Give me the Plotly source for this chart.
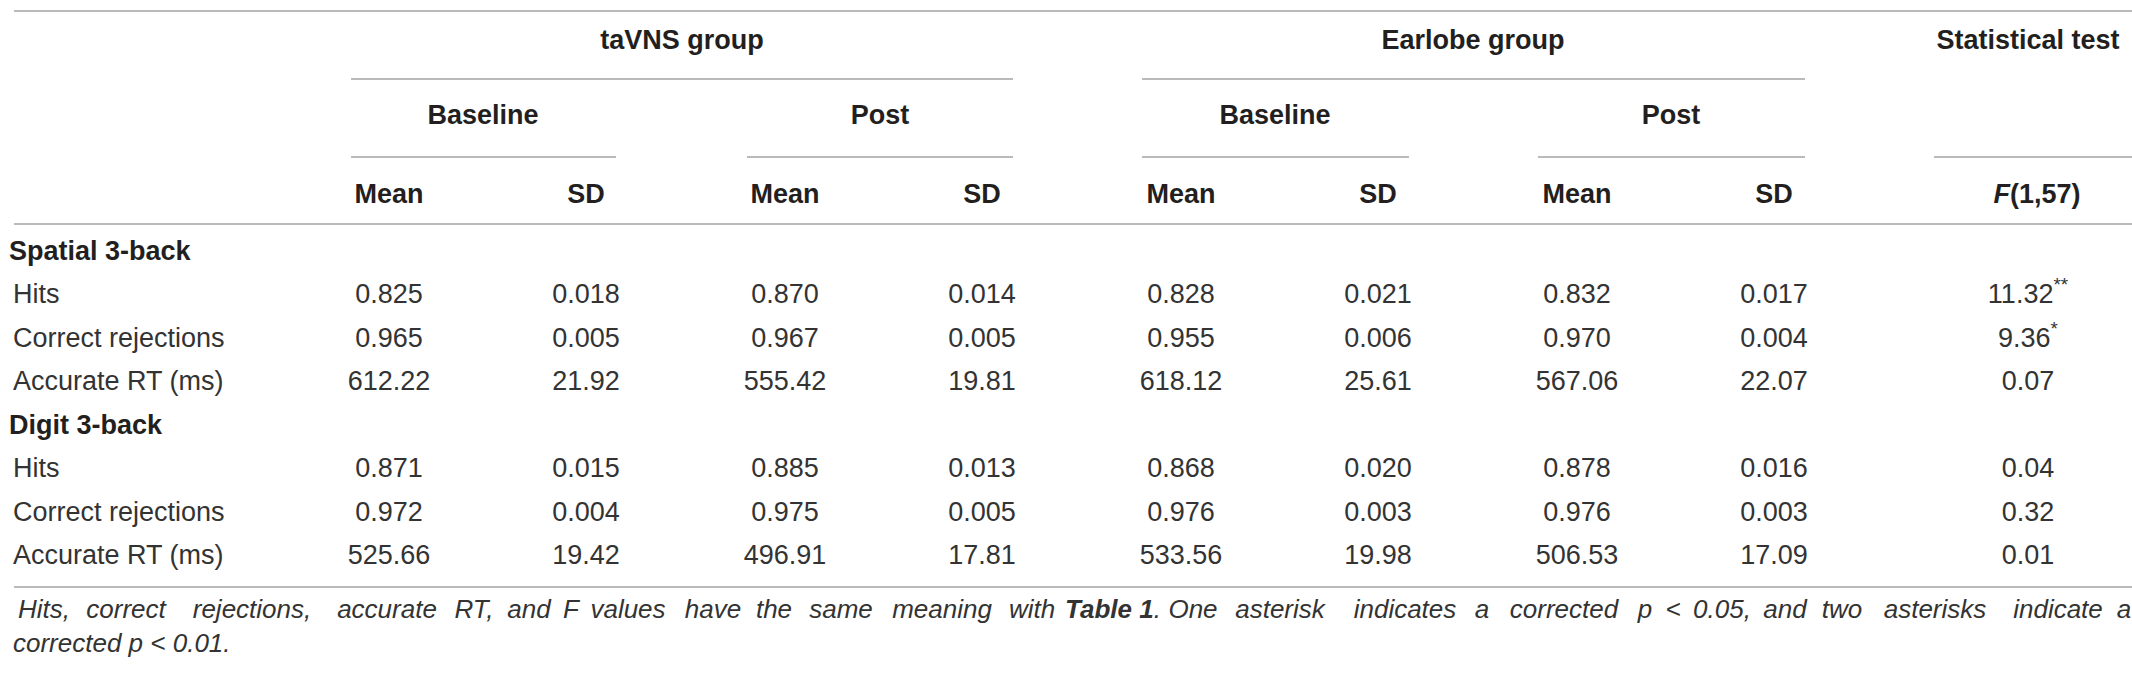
import plotly.graph_objects as go

# =========================
# Dados da tabela
# =========================
secoes = ["Spatial 3-back", "Digit 3-back"]
linhas = ["Hits", "Correct rejections", "Accurate RT (ms)"]
decimais = [3, 3, 2]

tavns_base_mean = [0.825, 0.965, 612.22, 0.871, 0.972, 525.66]
tavns_base_sd = [0.018, 0.005, 21.92, 0.015, 0.004, 19.42]
tavns_post_mean = [0.870, 0.967, 555.42, 0.885, 0.975, 496.91]
tavns_post_sd = [0.014, 0.005, 19.81, 0.013, 0.005, 17.81]
ear_base_mean = [0.828, 0.955, 618.12, 0.868, 0.976, 533.56]
ear_base_sd = [0.021, 0.006, 25.61, 0.020, 0.003, 19.98]
ear_post_mean = [0.832, 0.970, 567.06, 0.878, 0.976, 506.53]
ear_post_sd = [0.017, 0.004, 22.07, 0.016, 0.003, 17.09]
f_valores = [11.32, 9.36, 0.07, 0.04, 0.32, 0.01]
f_asteriscos = ["**", "*", "", "", "", ""]

grupos = ["taVNS group", "Earlobe group"]
subgrupos = ["Baseline", "Post", "Baseline", "Post"]
colunas = ["Mean", "SD"] * 4

nota_palavras = ["Hits,", "correct", "rejections,", "accurate", "RT,", "and", "F", "values",
                 "have", "the", "same", "meaning", "with", "<b>Table 1</b>.", "One", "asterisk",
                 "indicates", "a", "corrected", "p", "&lt;", "0.05,", "and", "two", "asterisks",
                 "indicate", "a"]
nota_linha2 = "corrected p &lt; 0.01."

# =========================
# Layout (pixels)
# =========================
W, H = 2132, 675
FONTE = "Liberation Sans"
COR_CAB = "#231f20"
COR_TXT = "#333333"
COR_LINHA = "#a3a3a3"
TAM = 27
TAM_NOTA = 26

x_mean = [389, 785, 1181, 1577]
x_sd = [586, 982, 1378, 1774]
x_f = 2028
x_cols = [x_mean[0], x_sd[0], x_mean[1], x_sd[1], x_mean[2], x_sd[2], x_mean[3], x_sd[3]]

y_secao = [253, 427]
y_linhas = [296, 340, 383, 470, 514, 557]

fig = go.Figure()

colunas_valores = [tavns_base_mean, tavns_base_sd, tavns_post_mean, tavns_post_sd,
                   ear_base_mean, ear_base_sd, ear_post_mean, ear_post_sd]


def fmt(v, i):
    return f"{v:.{decimais[i % 3]}f}"


def texto(x, y, txt, pos="middle center", cor=COR_TXT, tam=TAM):
    fig.add_trace(go.Scatter(
        x=x, y=y, mode="text", text=txt, textposition=pos,
        textfont=dict(family=FONTE, size=tam, color=cor),
        hoverinfo="skip", showlegend=False
    ))


for xc, serie in zip(x_cols, colunas_valores):
    texto([xc] * len(serie), y_linhas, [fmt(v, i) for i, v in enumerate(serie)])

texto([x_f] * len(f_valores), y_linhas,
      [f"{v:.2f}" + (f"<sup>{a}</sup>" if a else "") for v, a in zip(f_valores, f_asteriscos)])

# rótulos das linhas
texto([9] * 2, y_secao, [f"<b>{s}</b>" for s in secoes], pos="middle right", cor=COR_CAB)
texto([13] * 6, y_linhas, linhas * 2, pos="middle right")

# cabeçalhos
cab_x = [682, 1473, 2028, 483, 880, 1275, 1671] + x_cols + [2037]
cab_y = [42] * 3 + [117] * 4 + [196] * 9
cab_txt = grupos + ["Statistical test"] + subgrupos + colunas + ["<i>F</i>(1,57)"]
texto(cab_x, cab_y, [f"<b>{t}</b>" for t in cab_txt], cor=COR_CAB)

# nota de rodapé (justificada palavra por palavra)
centros = [44, 126, 252, 387, 474, 529, 571, 628, 713, 774, 841, 942, 1032, 1113,
           1193, 1280, 1405, 1482, 1564, 1645, 1673, 1722, 1785, 1842, 1935, 2058, 2124]
texto(centros, [611] * len(nota_palavras), [f"<i>{p}</i>" for p in nota_palavras], tam=TAM_NOTA)
texto([13], [645], [f"<i>{nota_linha2}</i>"], pos="middle right", tam=TAM_NOTA)

# linhas horizontais
regras = [
    (14, W, 11), (351, 1013, 79), (1142, 1805, 79),
    (351, 616, 157), (747, 1013, 157), (1142, 1409, 157), (1538, 1805, 157), (1934, W, 157),
    (14, W, 224), (14, W, 587),
]
for x0, x1, yy in regras:
    fig.add_shape(type="line", x0=x0, x1=x1, y0=yy, y1=yy, xref="x", yref="y",
                  line=dict(color=COR_LINHA, width=1.5))

fig.update_layout(
    width=W, height=H,
    margin=dict(l=0, r=0, t=0, b=0),
    paper_bgcolor="white", plot_bgcolor="white",
    xaxis=dict(range=[0, W], visible=False, fixedrange=True),
    yaxis=dict(range=[H, 0], visible=False, fixedrange=True),
)

# sem a margem padrão do <body>, para a figura começar no canto da página
fig.write_html("out.html", config={"displayModeBar": False},
               post_script="document.body.style.margin='0';")
